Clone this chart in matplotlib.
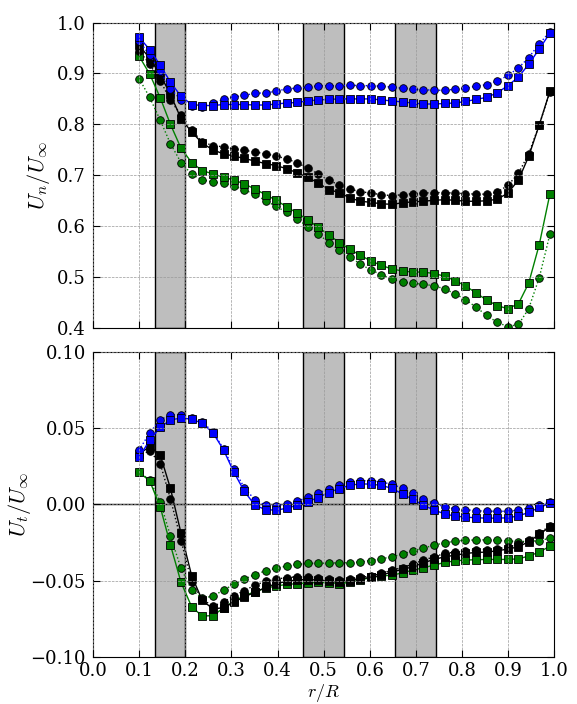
import numpy as np
import matplotlib
matplotlib.use('Agg')
import matplotlib.pyplot as plt

plt.rcParams['font.family'] = 'serif'
plt.rcParams['font.serif'] = ['DejaVu Serif']
plt.rcParams['mathtext.fontset'] = 'cm'
plt.rcParams['font.size'] = 13
plt.rcParams['xtick.direction'] = 'in'
plt.rcParams['ytick.direction'] = 'in'
plt.rcParams['xtick.major.pad'] = 4
plt.rcParams['ytick.major.pad'] = 5

# радиальные станции
r = [0.100, 0.123, 0.146, 0.168, 0.191, 0.214, 0.237, 0.260, 0.283, 0.305,
     0.328, 0.351, 0.374, 0.397, 0.420, 0.442, 0.465, 0.488, 0.511, 0.534,
     0.556, 0.579, 0.602, 0.625, 0.648, 0.671, 0.693, 0.716, 0.739, 0.762,
     0.785, 0.807, 0.830, 0.853, 0.876, 0.899, 0.922, 0.944, 0.967, 0.990]

# зоны затенения (лопасти)
spans = [(0.135, 0.200), (0.455, 0.544), (0.655, 0.744)]

# Un/Uinf
un_b_sq = [0.971, 0.947, 0.916, 0.883, 0.855, 0.839, 0.837, 0.837, 0.839, 0.839,
           0.839, 0.838, 0.838, 0.840, 0.842, 0.843, 0.846, 0.848, 0.849, 0.850,
           0.850, 0.850, 0.850, 0.848, 0.846, 0.844, 0.842, 0.840, 0.840, 0.841,
           0.842, 0.845, 0.849, 0.853, 0.862, 0.876, 0.893, 0.918, 0.948, 0.979]
un_b_ci = [0.964, 0.936, 0.904, 0.870, 0.848, 0.836, 0.835, 0.842, 0.849, 0.854,
           0.857, 0.861, 0.862, 0.865, 0.870, 0.871, 0.873, 0.876, 0.876, 0.876,
           0.877, 0.876, 0.876, 0.875, 0.873, 0.871, 0.869, 0.868, 0.867, 0.867,
           0.869, 0.871, 0.875, 0.878, 0.885, 0.896, 0.911, 0.931, 0.958, 0.982]
un_k_sq = [0.955, 0.930, 0.897, 0.859, 0.811, 0.785, 0.763, 0.750, 0.742, 0.738,
           0.733, 0.728, 0.723, 0.719, 0.713, 0.705, 0.696, 0.685, 0.672, 0.666,
           0.656, 0.649, 0.647, 0.644, 0.643, 0.646, 0.648, 0.649, 0.651, 0.652,
           0.651, 0.649, 0.649, 0.650, 0.653, 0.665, 0.691, 0.737, 0.799, 0.865]
un_k_ci = [0.945, 0.918, 0.886, 0.847, 0.819, 0.788, 0.766, 0.758, 0.756, 0.752,
           0.749, 0.746, 0.742, 0.738, 0.732, 0.725, 0.714, 0.703, 0.690, 0.681,
           0.673, 0.668, 0.665, 0.662, 0.660, 0.662, 0.664, 0.665, 0.666, 0.666,
           0.665, 0.664, 0.663, 0.663, 0.667, 0.680, 0.704, 0.742, 0.799, 0.864]
un_g_sq = [0.934, 0.899, 0.852, 0.800, 0.753, 0.725, 0.709, 0.703, 0.696, 0.691,
           0.683, 0.673, 0.662, 0.651, 0.638, 0.626, 0.613, 0.598, 0.583, 0.568,
           0.555, 0.543, 0.532, 0.523, 0.516, 0.512, 0.510, 0.510, 0.507, 0.502,
           0.493, 0.483, 0.469, 0.455, 0.444, 0.438, 0.448, 0.488, 0.564, 0.663]
un_g_ci = [0.890, 0.853, 0.808, 0.762, 0.725, 0.702, 0.691, 0.687, 0.684, 0.679,
           0.671, 0.663, 0.650, 0.639, 0.627, 0.615, 0.599, 0.585, 0.568, 0.553,
           0.540, 0.526, 0.514, 0.505, 0.496, 0.490, 0.488, 0.486, 0.483, 0.477,
           0.467, 0.456, 0.441, 0.425, 0.411, 0.403, 0.407, 0.438, 0.499, 0.584]

# Ut/Uinf
ut_b_sq = [0.0308, 0.0422, 0.0505, 0.0555, 0.0566, 0.0560, 0.0532, 0.0470, 0.0358, 0.0214,
           0.0086, -0.0005, -0.0034, -0.0038, -0.0025, -0.0006, 0.0017, 0.0045, 0.0078, 0.0104,
           0.0125, 0.0135, 0.0133, 0.0125, 0.0105, 0.0068, 0.0033, -0.0005, -0.0037, -0.0062,
           -0.0077, -0.0083, -0.0088, -0.0090, -0.0090, -0.0088, -0.0075, -0.0053, -0.0020, 0.0007]
ut_b_ci = [0.0356, 0.0470, 0.0555, 0.0588, 0.0588, 0.0570, 0.0540, 0.0477, 0.0364, 0.0234,
           0.0110, 0.0030, -0.0005, -0.0008, 0.0000, 0.0021, 0.0046, 0.0074, 0.0102, 0.0127,
           0.0146, 0.0155, 0.0155, 0.0146, 0.0133, 0.0105, 0.0072, 0.0035, 0.0007, -0.0016,
           -0.0029, -0.0035, -0.0040, -0.0046, -0.0044, -0.0046, -0.0037, -0.0024, -0.0005, 0.0015]
ut_k_sq = [0.0330, 0.0380, 0.0323, 0.0105, -0.0190, -0.0468, -0.0630, -0.0685, -0.0678, -0.0643,
           -0.0606, -0.0577, -0.0545, -0.0520, -0.0505, -0.0495, -0.0493, -0.0496, -0.0501, -0.0512,
           -0.0501, -0.0488, -0.0479, -0.0466, -0.0442, -0.0427, -0.0409, -0.0383, -0.0361, -0.0344,
           -0.0333, -0.0322, -0.0315, -0.0313, -0.0304, -0.0293, -0.0278, -0.0245, -0.0197, -0.0147]
ut_k_ci = [0.0320, 0.0352, 0.0266, 0.0037, -0.0237, -0.0510, -0.0623, -0.0667, -0.0640, -0.0600,
           -0.0565, -0.0530, -0.0505, -0.0490, -0.0480, -0.0475, -0.0478, -0.0483, -0.0490, -0.0497,
           -0.0492, -0.0479, -0.0470, -0.0453, -0.0431, -0.0414, -0.0392, -0.0365, -0.0344, -0.0322,
           -0.0313, -0.0304, -0.0300, -0.0296, -0.0291, -0.0282, -0.0260, -0.0234, -0.0190, -0.0140]
ut_g_sq = [0.0210, 0.0155, -0.0018, -0.0266, -0.0512, -0.0672, -0.0733, -0.0729, -0.0680, -0.0635,
           -0.0600, -0.0572, -0.0550, -0.0535, -0.0525, -0.0520, -0.0515, -0.0512, -0.0514, -0.0519,
           -0.0512, -0.0497, -0.0479, -0.0470, -0.0464, -0.0449, -0.0431, -0.0416, -0.0398, -0.0381,
           -0.0370, -0.0365, -0.0363, -0.0361, -0.0361, -0.0361, -0.0357, -0.0339, -0.0313, -0.0274]
ut_g_ci = [0.0214, 0.0160, 0.0017, -0.0208, -0.0420, -0.0562, -0.0615, -0.0602, -0.0562, -0.0525,
           -0.0490, -0.0460, -0.0436, -0.0418, -0.0405, -0.0394, -0.0387, -0.0386, -0.0385, -0.0383,
           -0.0383, -0.0377, -0.0368, -0.0357, -0.0343, -0.0326, -0.0304, -0.0287, -0.0267, -0.0252,
           -0.0241, -0.0234, -0.0234, -0.0232, -0.0236, -0.0239, -0.0245, -0.0241, -0.0239, -0.0221]


def draw(ax, data):
    for a, b in spans:
        ax.axvspan(a, b, facecolor='#bebebe', edgecolor='k', linewidth=1, zorder=0)
    for y, c, m, ls in data:
        ax.plot(r, y, color=c, marker=m, linestyle=ls, linewidth=1,
                markersize=5.5, markeredgecolor='k', markeredgewidth=0.6, zorder=2)
    ax.grid(True, color='0.6', linestyle='--', linewidth=0.5, zorder=1)
    ax.set_axisbelow(False)
    ax.tick_params(top=True, right=True, length=5)
    ax.set_xlim(0, 1)
    ax.set_xticks(np.arange(0, 1.01, 0.1))


fig = plt.figure(figsize=(5.77, 7.04), dpi=100)
fig.patch.set_facecolor('w')

ax1 = fig.add_axes([0.161, 0.534, 0.800, 0.434])
draw(ax1, [(un_g_ci, 'g', 'o', ':'), (un_g_sq, 'g', 's', '-'),
           (un_k_ci, 'k', 'o', ':'), (un_k_sq, 'k', 's', '-'),
           (un_b_ci, 'b', 'o', ':'), (un_b_sq, 'b', 's', '-')])
ax1.set_ylim(0.4, 1.0)
ax1.set_yticks(np.arange(0.4, 1.01, 0.1))
ax1.set_xticklabels([])
ax1.set_ylabel(r'$U_n/U_\infty$', fontsize=16, labelpad=4)

ax2 = fig.add_axes([0.161, 0.067, 0.800, 0.433])
ax2.axhline(0, color='k', linewidth=1, zorder=1.5)
draw(ax2, [(ut_g_ci, 'g', 'o', ':'), (ut_g_sq, 'g', 's', '-'),
           (ut_k_ci, 'k', 'o', ':'), (ut_k_sq, 'k', 's', '-'),
           (ut_b_ci, 'b', 'o', ':'), (ut_b_sq, 'b', 's', '-')])
ax2.set_ylim(-0.1, 0.1)
ax2.set_yticks([-0.10, -0.05, 0.00, 0.05, 0.10])
ax2.set_yticklabels(['\u22120.10', '\u22120.05', '0.00', '0.05', '0.10'])
ax2.set_xlabel(r'$r/R$', fontsize=13, labelpad=1)
ax2.set_ylabel(r'$U_t/U_\infty$', fontsize=16, labelpad=-2)

fig.savefig('out.png', dpi=100, facecolor='w')
